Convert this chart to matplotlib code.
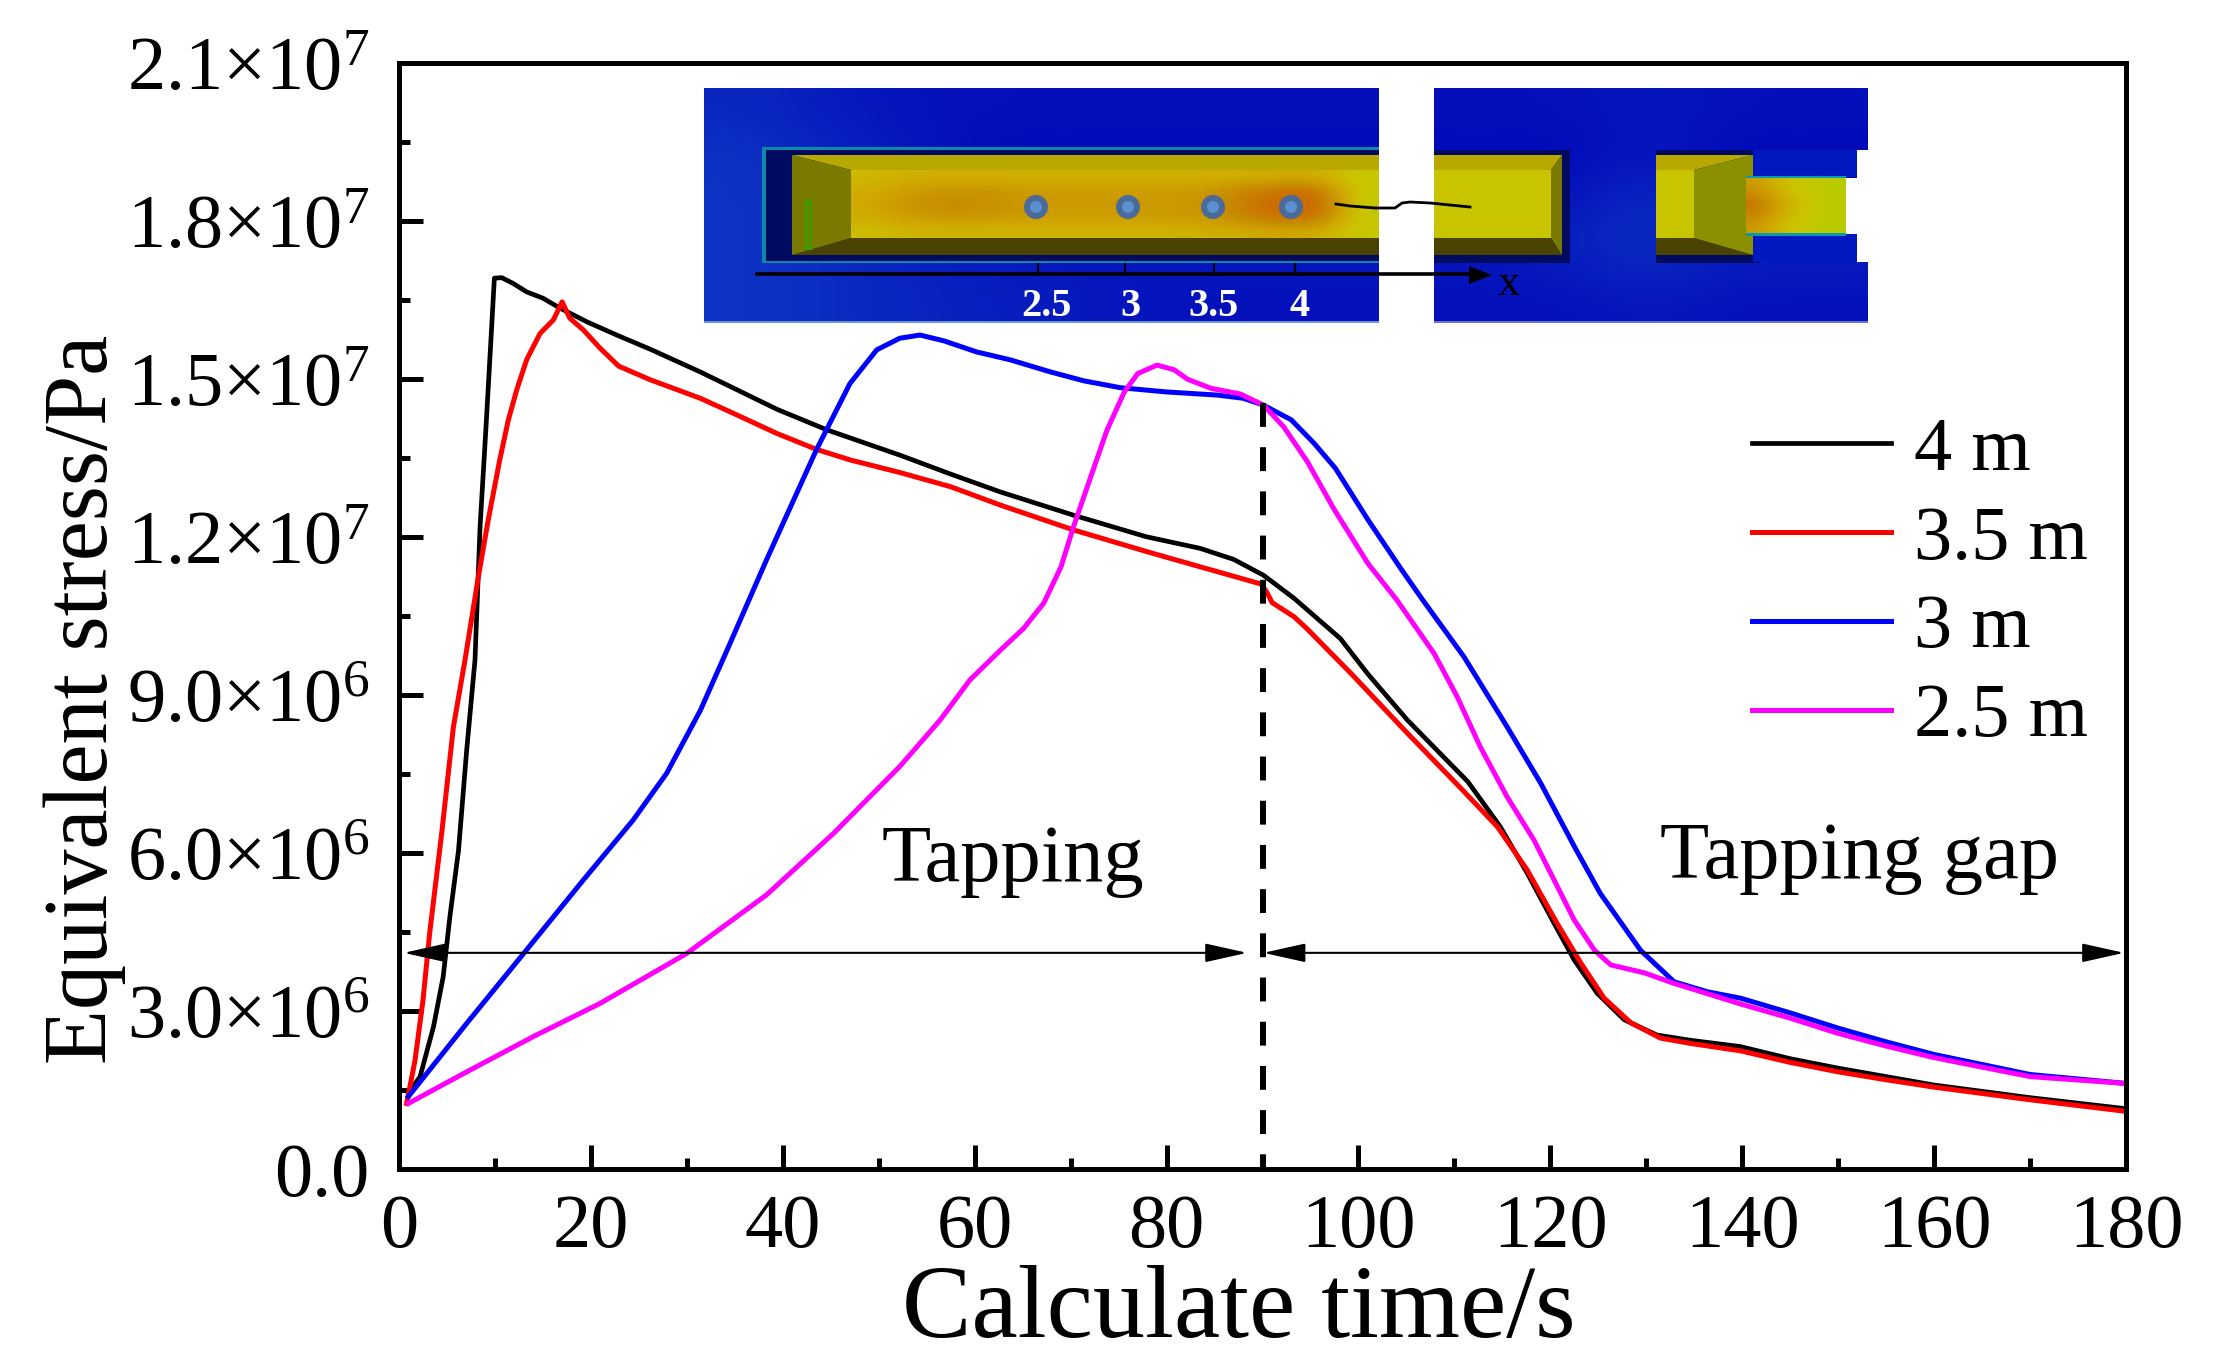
import matplotlib
matplotlib.use("Agg")
import matplotlib.pyplot as plt
import numpy as np
from matplotlib.colors import LinearSegmentedColormap
from matplotlib.patches import Ellipse, Polygon, Rectangle

plt.rcParams["font.family"] = ["Liberation Serif", "DejaVu Serif"]
plt.rcParams["mathtext.default"] = "regular"

# curves, stress in units of 1e6 Pa
t_4m = [1, 2.2, 3.6, 4.6, 5.3, 6.2, 7.05, 7.92, 8.45, 9.07, 9.56, 9.94, 10.7, 11.9, 13.3, 15, 16.8, 19.6, 22.7, 26.2, 31.4,
        34.9, 39.4, 44.6, 52.2, 57.5, 62.7, 70.3, 77.9, 83.5, 87, 90.1, 93.3, 98.1, 101, 105.1, 111.4, 114.8, 117.6, 120.4,
        122.5, 124.9, 127.7, 131.1, 134.6, 139.8, 145, 150, 155, 160, 170, 180]
s_4m = [1.45, 1.76, 2.71, 3.65, 4.79, 6.05, 7.95, 9.67, 12.2, 14.1, 15.68, 16.92, 16.93, 16.82, 16.66, 16.54, 16.35, 16.09, 15.84, 15.57, 15.14,
        14.83, 14.43, 14.04, 13.56, 13.2, 12.86, 12.42, 12.01, 11.79, 11.58, 11.28, 10.84, 10.08, 9.4, 8.53, 7.36, 6.5, 5.62, 4.67,
        3.97, 3.34, 2.84, 2.55, 2.45, 2.33, 2.1, 1.92, 1.76, 1.6, 1.36, 1.15]
t_35m = [0.8, 1.67, 2.5, 3.2, 4.45, 5.67, 6.88, 8.27, 9.3, 10.5, 11.4, 12.27, 13.3, 14.7, 16.1, 17, 17.8, 19.2, 20.96, 22.9, 26.2,
         31.4, 34.9, 39.4, 43.5, 47, 52.2, 57.5, 62.7, 70.3, 77.9, 83.5, 89.9, 90.5, 91, 93.3, 94.6, 99.2, 105.1, 110.7,
         114.5, 117.6, 120.7, 123.2, 125.6, 128.4, 131.5, 134.6, 139.8, 145, 150, 155, 160, 170, 180]
s_35m = [1.25, 2.07, 3.21, 4.49, 6.38, 8.4, 9.67, 11.25, 12.33, 13.47, 14.23, 14.8, 15.37, 15.87, 16.13, 16.47, 16.16, 15.94, 15.59, 15.25, 14.99,
         14.64, 14.35, 13.97, 13.67, 13.47, 13.23, 12.96, 12.61, 12.14, 11.73, 11.44, 11.11, 10.94, 10.76, 10.49, 10.27, 9.42, 8.28, 7.23,
         6.5, 5.68, 4.67, 3.91, 3.25, 2.78, 2.49, 2.39, 2.25, 2.03, 1.85, 1.7, 1.56, 1.32, 1.1]
t_3m = [0.97, 7.05, 13, 19.2, 24.4, 27.9, 31.4, 34.2, 38.3, 43.5, 47, 49.8, 52.2, 54.3, 56.8, 60.2, 63.7, 67.9, 71.4, 75.2,
        80, 85.3, 88, 90.1, 93, 95.4, 97.6, 101, 104.4, 106.7, 111, 115.5, 119, 122.5, 125.2, 129.4, 132.9, 136.4, 139.8,
        145, 150, 155, 160, 170, 180]
s_3m = [1.38, 2.77, 4.1, 5.49, 6.63, 7.52, 8.71, 9.86, 11.57, 13.66, 14.92, 15.56, 15.78, 15.84, 15.73, 15.52, 15.37, 15.14, 14.97, 14.84,
        14.76, 14.7, 14.64, 14.51, 14.23, 13.78, 13.31, 12.33, 11.41, 10.81, 9.73, 8.4, 7.33, 6.13, 5.24, 4.16, 3.56, 3.37, 3.25,
        2.97, 2.68, 2.42, 2.18, 1.8, 1.63]
t_25m = [0.97, 7.05, 14, 20.96, 30, 38.3, 45.3, 52.2, 56.4, 59.5, 62.7, 65.1, 67.2, 69, 70.3, 72.1, 73.8, 75.6, 77, 79, 80.8, 82.2,
         84.6, 87.7, 90.1, 92.2, 94.7, 97.4, 101, 104, 107.9, 110.3, 112.7, 115.5, 118.3, 120.4, 122.5, 124.6, 126.3, 129.8, 132.9,
         139.8, 145, 150, 155, 160, 170, 180]
s_25m = [1.25, 1.85, 2.52, 3.15, 4.1, 5.21, 6.38, 7.65, 8.53, 9.29, 9.86, 10.27, 10.75, 11.44, 12.2, 13.15, 14.04, 14.76, 15.11, 15.27, 15.18, 15.0,
         14.83, 14.72, 14.51, 14.1, 13.43, 12.55, 11.5, 10.81, 9.79, 8.97, 8.02, 7.07, 6.25, 5.49, 4.73, 4.16, 3.88, 3.73, 3.53,
         3.14, 2.87, 2.58, 2.34, 2.12, 1.76, 1.63]

series_names = ["4 m", "3.5 m", "3 m", "2.5 m"]
series_colors = ["#000000", "#ff0000", "#0000ff", "#ff00ff"]
series_widths = [3.4, 3.6, 3.6, 3.6]

x_ticks = [0, 20, 40, 60, 80, 100, 120, 140, 160, 180]
y_ticks = [0, 3e6, 6e6, 9e6, 1.2e7, 1.5e7, 1.8e7, 2.1e7]
y_labels = ["0.0", "3.0×10$^{6}$", "6.0×10$^{6}$", "9.0×10$^{6}$", "1.2×10$^{7}$",
            "1.5×10$^{7}$", "1.8×10$^{7}$", "2.1×10$^{7}$"]
probe_labels = ["2.5", "3", "3.5", "4"]

W, H = 2216, 1357
fig = plt.figure(figsize=(W / 100, H / 100), dpi=100)
ax = fig.add_axes([399 / W, 1 - 1169.3 / H, 1727 / W, 1106 / H])

curves = [(t_4m, s_4m), (t_35m, s_35m), (t_3m, s_3m), (t_25m, s_25m)]
for (t, s), name, col, lw in zip(curves, series_names, series_colors, series_widths):
    ax.plot(t, np.array(s) * 1e6, color=col, lw=lw, label=name, solid_joinstyle="round")

ax.set_xlim(0, 180)
ax.set_ylim(0, 2.1e7)
ax.set_xticks(x_ticks)
ax.set_xticks(np.arange(10, 180, 20), minor=True)
ax.set_yticks(y_ticks)
ax.set_yticklabels(y_labels)
ax.set_yticks(np.arange(1.5e6, 2.1e7, 3e6), minor=True)
ax.tick_params(which="major", direction="in", length=17, width=3.6, labelsize=55)
ax.tick_params(axis="x", which="major", pad=18)
ax.tick_params(axis="y", which="major", pad=21)
ax.tick_params(which="minor", direction="in", length=8, width=3.6)
for sp in ax.spines.values():
    sp.set_linewidth(3.6)

ax.set_xlabel("Calculate time/s", fontsize=75, labelpad=1, x=0.486)
ax.set_ylabel("Equivalent stress/Pa", fontsize=65)
ax.yaxis.set_label_coords(-0.158, 0.425)

ax.plot([90, 90], [1.455e7, 0], color="black", lw=4.3, ls=(0, (4.0, 3.4)), dash_capstyle="butt")
for a, b in [(0.5, 88.4), (90.1, 179.8)]:
    ax.annotate("", xy=(b, 4.11e6), xytext=(a, 4.11e6),
                arrowprops=dict(arrowstyle="<|-|>,head_length=2.6,head_width=0.58", color="black", lw=1.5,
                                shrinkA=0, shrinkB=0, mutation_scale=10))
ax.text(64, 5.85e6, "Tapping", fontsize=58, ha="center", va="center")
ax.text(152.2, 5.9e6, "Tapping gap", fontsize=58, ha="center", va="center")
ax.legend(loc="upper left", bbox_to_anchor=(0.7835, 0.681), frameon=False, fontsize=55, handlelength=1.82,
          labelspacing=0.255, handletextpad=0.3, borderpad=0, borderaxespad=0)

# inset picture, drawn in figure pixels on a second axes
ov = fig.add_axes([0, 0, 1, 1], facecolor="none")
ov.set_axis_off()

blue = LinearSegmentedColormap.from_list("b", ["#0000b8", "#0a28c0", "#2060d0"])
heat = LinearSegmentedColormap.from_list("h", ["#b8cc00", "#ccc400", "#d0a800", "#c88a00", "#cc6400"])


def grad(x0, x1, y0, y1, vals, cmap, z=2):
    ov.imshow(np.array(vals), extent=(x0, x1, y1, y0), cmap=cmap, vmin=0, vmax=1,
              interpolation="bicubic", aspect="auto", zorder=z)


def box(x0, x1, y0, y1, col, z=3):
    ov.add_patch(Rectangle((x0, y0), x1 - x0, y1 - y0, fc=col, ec="none", zorder=z))


def poly(pts, col, z=4):
    ov.add_patch(Polygon(pts, closed=True, fc=col, ec="none", zorder=z))


# blue body
grad(704, 1379, 88, 323, [[0.5, 0.25, 0.2, 0.2, 0.2, 0.2], [0.6, 0.4, 0.1, 0.1, 0.1, 0.1], [0.6, 0.5, 0.1, 0.1, 0.1, 0.1],
                          [0.6, 0.5, 0.3, 0.3, 0.3, 0.3], [0.6, 0.5, 0.4, 0.3, 0.2, 0.2]], blue)
grad(1434, 1868, 88, 323, [[0.2, 0.2, 0.3, 0.2, 0.2], [0.1, 0.1, 0.3, 0.1, 0.1], [0.1, 0.3, 0.6, 0.1, 0.1],
                           [0.3, 0.4, 0.6, 0.4, 0.4], [0.2, 0.2, 0.3, 0.2, 0.2]], blue)
box(704, 1379, 320.5, 323, "#6a96d8")
box(1434, 1868, 320.5, 323, "#6a70d0")

# left pocket
box(762, 1379, 147, 263, "#0a8aa8")
box(766, 1379, 150, 261, "#000a60")
poly([(792, 155), (1379, 155), (1379, 170), (851, 170)], "#b8a800")
poly([(792, 255), (1379, 255), (1379, 238), (851, 238)], "#4a4200")
poly([(792, 155), (851, 170), (851, 238), (792, 255)], "#7a7a00")
grad(851, 1379, 170, 238,
     [[0.35, 0.42, 0.42, 0.42, 0.42, 0.42, 0.42, 0.42, 0.42, 0.42, 0.42, 0.45, 0.45, 0.15],
      [0.45, 0.6, 0.68, 0.68, 0.62, 0.6, 0.6, 0.6, 0.6, 0.65, 0.8, 0.95, 0.9, 0.15],
      [0.5, 0.68, 0.75, 0.72, 0.65, 0.62, 0.62, 0.62, 0.62, 0.68, 0.85, 1.0, 1.0, 0.15],
      [0.45, 0.6, 0.65, 0.65, 0.6, 0.58, 0.58, 0.58, 0.6, 0.65, 0.8, 0.95, 0.9, 0.15],
      [0.3, 0.38, 0.38, 0.38, 0.38, 0.38, 0.38, 0.38, 0.4, 0.42, 0.45, 0.5, 0.45, 0.15]], heat, z=4)
box(805, 812, 200, 250, "#38a000", z=5)
box(808, 810, 203, 247, "#7a7a00", z=6)

# probes
for px in [1036, 1128, 1213, 1291]:
    ov.add_patch(Ellipse((px, 207), 24, 24, fc="#4a6a9a", ec="none", zorder=6))
    ov.add_patch(Ellipse((px, 207), 12, 12, fc="#5a90d0", ec="none", zorder=7))

# right pocket
box(1434, 1570, 150, 263, "#000a60")
poly([(1434, 155), (1562, 155), (1551, 170), (1434, 170)], "#b8a800")
poly([(1434, 255), (1562, 255), (1551, 238), (1434, 238)], "#4a4200")
poly([(1551, 170), (1562, 155), (1562, 255), (1551, 238)], "#7a7a00")
box(1434, 1551, 170, 238, "#c8c400", z=4)
box(1656, 1760, 150, 263, "#000a60")
poly([(1656, 155), (1753, 155), (1694, 170), (1656, 170)], "#b8a800")
poly([(1656, 255), (1753, 255), (1694, 238), (1656, 238)], "#4a4200")
box(1656, 1694, 170, 238, "#c8c400", z=4)
poly([(1694, 170), (1753, 155), (1753, 255), (1694, 238)], "#8a9000")
box(1753, 1857, 150, 177, "#0018c0", z=4)
box(1753, 1857, 235, 262, "#0018c0", z=4)
box(1746, 1846, 176, 180, "#0a9ab0", z=5)
box(1746, 1846, 232, 236, "#0a9ab0", z=5)
grad(1746, 1846, 178, 233, [[0.6, 0.4, 0.2, 0.1, 0.0], [1.0, 0.65, 0.4, 0.2, 0.0], [0.6, 0.4, 0.2, 0.1, 0.0]], heat, z=5)
box(1846, 1868.5, 178, 234, "white", z=6)
box(1857, 1868.5, 150, 262, "white", z=6)

# position axis and labels
ov.plot([757, 1472], [274, 274], color="black", lw=2.6, zorder=8)
poly([(1469, 266), (1492, 275), (1469, 284)], "black", z=8)
for px in [1038, 1125, 1214, 1295]:
    ov.plot([px, px], [264, 274], color="black", lw=1.5, zorder=8)
for px, lab in zip([1046, 1130, 1214, 1300], probe_labels):
    ov.text(px, 306, lab, color="white", fontsize=29, fontweight="bold", ha="center", va="center", zorder=9)
ov.text(1509, 284, "x", color="black", fontsize=32, ha="center", va="center", zorder=9)
ov.plot([1336, 1350, 1375, 1395, 1402, 1410, 1430, 1470], [204, 206, 208, 208, 203, 202, 203, 207],
        color="black", lw=2, zorder=9)

ov.set_xlim(0, W)
ov.set_ylim(H, 0)

fig.savefig("out.png", dpi=100)
